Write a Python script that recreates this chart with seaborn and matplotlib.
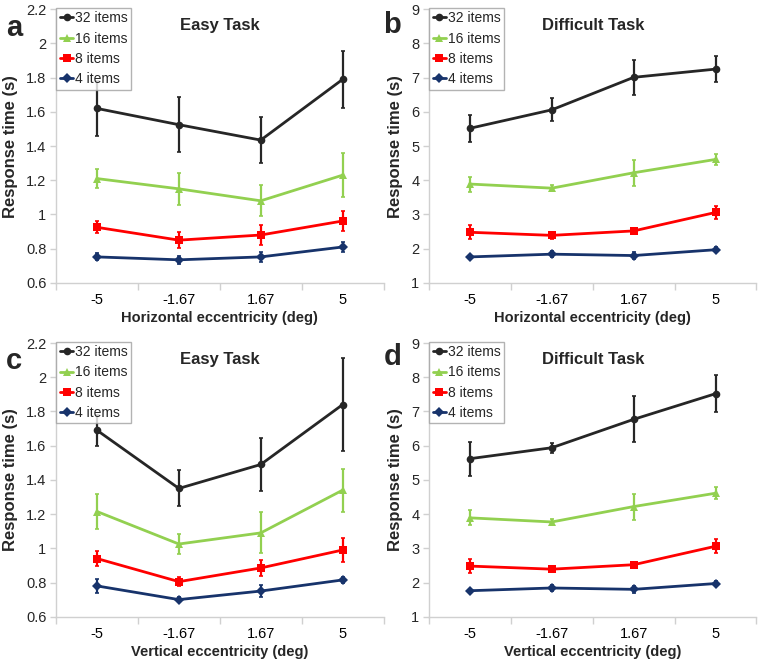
import numpy as np
import pandas as pd
import matplotlib.pyplot as plt
import seaborn as sns
from matplotlib.ticker import FixedLocator

# categories and series
ecc_labels = ['-5', '-1.67', '1.67', '5']
series_names = ['32 items', '16 items', '8 items', '4 items']

# panel a: easy task, horizontal
a_32 = [1.62, 1.525, 1.435, 1.79]
a_32_err = [0.16, 0.16, 0.135, 0.165]
a_16 = [1.21, 1.15, 1.08, 1.23]
a_16_err = [0.055, 0.095, 0.09, 0.13]
a_8 = [0.925, 0.85, 0.88, 0.962]
a_8_err = [0.035, 0.045, 0.06, 0.06]
a_4 = [0.752, 0.735, 0.752, 0.81]
a_4_err = [0.02, 0.022, 0.03, 0.03]

# panel b: difficult task, horizontal
b_32 = [5.52, 6.06, 7.01, 7.25]
b_32_err = [0.4, 0.34, 0.52, 0.39]
b_16 = [3.89, 3.77, 4.22, 4.61]
b_16_err = [0.22, 0.08, 0.38, 0.17]
b_8 = [2.48, 2.39, 2.52, 3.06]
b_8_err = [0.2, 0.1, 0.08, 0.2]
b_4 = [1.76, 1.84, 1.80, 1.97]
b_4_err = [0.05, 0.08, 0.1, 0.08]

# panel c: easy task, vertical
c_32 = [1.69, 1.35, 1.49, 1.84]
c_32_err = [0.09, 0.105, 0.155, 0.27]
c_16 = [1.215, 1.025, 1.09, 1.34]
c_16_err = [0.1, 0.06, 0.12, 0.125]
c_8 = [0.94, 0.805, 0.885, 0.99]
c_8_err = [0.045, 0.025, 0.045, 0.07]
c_4 = [0.78, 0.70, 0.75, 0.815]
c_4_err = [0.04, 0.015, 0.035, 0.02]

# panel d: difficult task, vertical
d_32 = [5.62, 5.94, 6.77, 7.52]
d_32_err = [0.5, 0.15, 0.67, 0.55]
d_16 = [3.89, 3.77, 4.22, 4.61]
d_16_err = [0.22, 0.08, 0.38, 0.17]
d_8 = [2.48, 2.39, 2.52, 3.06]
d_8_err = [0.2, 0.08, 0.08, 0.2]
d_4 = [1.76, 1.84, 1.80, 1.97]
d_4_err = [0.05, 0.08, 0.1, 0.08]

colors = ['#262626', '#92d050', '#ff0000', '#17336b']
markers = ['o', '^', 's', 'D']
msizes = [5.5, 6, 5.5, 5]

sns.set_theme(style='white')
plt.rcParams['font.family'] = ['Liberation Sans', 'DejaVu Sans']

fig = plt.figure(figsize=(7.58, 6.61), dpi=100)

# letter, title, xlabel, values, errors, ylim, yticks, axes origin, letter position (px)
panels = [
    ('a', 'Easy Task', 'Horizontal eccentricity (deg)', [a_32, a_16, a_8, a_4],
     [a_32_err, a_16_err, a_8_err, a_4_err], (0.6, 2.2), np.arange(0.6, 2.21, 0.2),
     [0.074, 0.572], (14, 28)),
    ('b', 'Difficult Task', 'Horizontal eccentricity (deg)', [b_32, b_16, b_8, b_4],
     [b_32_err, b_16_err, b_8_err, b_4_err], (1, 9), np.arange(1, 10, 1),
     [0.566, 0.572], (392, 25)),
    ('c', 'Easy Task', 'Vertical eccentricity (deg)', [c_32, c_16, c_8, c_4],
     [c_32_err, c_16_err, c_8_err, c_4_err], (0.6, 2.2), np.arange(0.6, 2.21, 0.2),
     [0.074, 0.067], (14, 361)),
    ('d', 'Difficult Task', 'Vertical eccentricity (deg)', [d_32, d_16, d_8, d_4],
     [d_32_err, d_16_err, d_8_err, d_4_err], (1, 9), np.arange(1, 10, 1),
     [0.566, 0.067], (393, 357)),
]

for letter, title, xlabel, vals, errs, ylim, yticks, pos, lpos in panels:
    ax = fig.add_axes([pos[0], pos[1], 0.432, 0.414])
    rows = []
    for name, v in zip(series_names, vals):
        for i, y in enumerate(v):
            rows.append({'pos': i, 'rt': y, 'set': name})
    df = pd.DataFrame(rows)
    sns.lineplot(data=df, x='pos', y='rt', hue='set', hue_order=series_names,
                 palette=colors, style='set', markers=markers, dashes=False,
                 linewidth=2, markeredgewidth=0, legend=False, ax=ax)
    handles = list(ax.lines[:4])
    for h, ms in zip(handles, msizes):
        h.set_markersize(ms)
    for v, e, c in zip(vals, errs, colors):
        ax.errorbar(range(4), v, yerr=e, fmt='none', ecolor=c, elinewidth=1.6,
                    capsize=1.5, capthick=1.2)

    ax.set_xlim(-0.5, 3.5)
    ax.set_ylim(*ylim)
    ax.set_yticks(yticks)
    ax.set_yticklabels([f'{t:.1f}'.rstrip('0').rstrip('.') for t in yticks])
    ax.set_xticks(range(4))
    ax.set_xticklabels(ecc_labels)
    ax.xaxis.set_minor_locator(FixedLocator([-0.5, 0.5, 1.5, 2.5, 3.5]))
    ax.tick_params(axis='x', which='major', length=0, pad=7.5, labelsize=10.5, colors='black')
    ax.tick_params(axis='x', which='minor', length=5, width=1, color='#d0d0d0', direction='out', bottom=True)
    ax.tick_params(axis='y', length=4, width=1, color='#d0d0d0', direction='out', left=True,
                   labelsize=10.5, pad=3)
    for s in ['top', 'right']:
        ax.spines[s].set_visible(False)
    for s in ['left', 'bottom']:
        ax.spines[s].set_color('#d0d0d0')
        ax.spines[s].set_linewidth(1)
    ax.set_xlabel(xlabel, fontsize=10.5, fontweight='bold', labelpad=3)
    ax.set_ylabel('Response time (s)', fontsize=12, fontweight='bold', labelpad=6)
    ax.text(0.5, 0.94, title, transform=ax.transAxes, ha='center', va='center',
            fontsize=12, fontweight='bold')
    fig.text(lpos[0] / 758, 1 - lpos[1] / 661, letter, ha='center', va='center',
             fontsize=21, fontweight='bold')
    leg = ax.legend(handles, series_names, loc='upper left', bbox_to_anchor=(0.0, 1.005),
                    fontsize=10, handlelength=1.0, handletextpad=0.08, borderpad=0.25,
                    labelspacing=0.45, borderaxespad=0, frameon=True, fancybox=False)
    leg.get_frame().set_edgecolor('#a0a0a0')
    leg.get_frame().set_linewidth(1)

fig.savefig('out.png', dpi=100)
